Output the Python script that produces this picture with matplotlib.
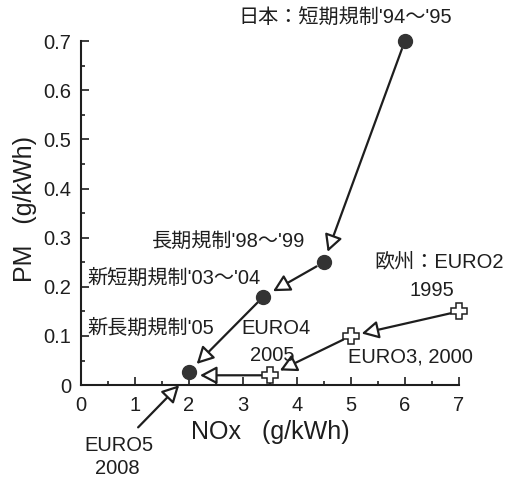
import matplotlib
matplotlib.use('Agg')
import matplotlib.pyplot as plt
from matplotlib.ticker import MultipleLocator

plt.rcParams['font.family'] = ['Liberation Sans', 'Noto Sans CJK JP', 'DejaVu Sans']

# Japan (filled circles): '94-'95, '98-'99, '03-'04, '05
japan_nox = [6.0, 4.5, 3.38, 2.0]
japan_pm = [0.70, 0.25, 0.18, 0.027]

# Europe (open crosses): EURO2 1995, EURO3 2000, EURO4 2005, EURO5 2008
euro_nox = [7.0, 5.0, 3.5, 2.0]
euro_pm = [0.15, 0.10, 0.02, 0.02]

x_ticks = [0, 1, 2, 3, 4, 5, 6, 7]
y_ticks = [0, 0.1, 0.2, 0.3, 0.4, 0.5, 0.6, 0.7]
y_tick_labels = ['0', '0.1', '0.2', '0.3', '0.4', '0.5', '0.6', '0.7']

ink = '#1e1e1e'

fig = plt.figure(figsize=(5.12, 4.79), dpi=100)
ax = fig.add_axes([0.158, 0.196, 0.738, 0.718])

head = '-|>,head_length=0.85,head_width=0.45'
arrow = dict(arrowstyle=head, fc='white', ec=ink, lw=1.6,
             shrinkA=6, shrinkB=8, mutation_scale=12)

# arrows between consecutive regulations
for i in range(len(japan_nox) - 1):
    ax.annotate('', xy=(japan_nox[i + 1], japan_pm[i + 1]),
                xytext=(japan_nox[i], japan_pm[i]), arrowprops=arrow,
                annotation_clip=False)
for i in range(len(euro_nox) - 1):
    ax.annotate('', xy=(euro_nox[i + 1], euro_pm[i + 1]),
                xytext=(euro_nox[i], euro_pm[i]), arrowprops=arrow,
                annotation_clip=False)

ax.plot(euro_nox[:3], euro_pm[:3], linestyle='none', marker='P', ms=11,
        mfc='white', mec=ink, mew=1.1, clip_on=False, zorder=4)
ax.plot(japan_nox, japan_pm, linestyle='none', marker='o', ms=10,
        mfc='#333333', mec='#333333', clip_on=False, zorder=5)

# EURO5 label with arrow to its point
ax.annotate('', xy=(euro_nox[3], euro_pm[3]), xytext=(1.06, -0.086),
            arrowprops=dict(arrowstyle=head, fc='white', ec=ink, lw=1.6,
                            shrinkA=0, shrinkB=10, mutation_scale=12),
            annotation_clip=False)

fs = 14.5
ax.text(4.89, 0.747, "日本：短期規制'94～'95", ha='center', va='center',
        fontsize=fs, color=ink, clip_on=False)
ax.text(1.31, 0.293, "長期規制'98～'99", ha='left', va='center',
        fontsize=fs, color=ink)
ax.text(0.13, 0.218, "新短期規制'03～'04", ha='left', va='center',
        fontsize=fs, color=ink)
ax.text(0.13, 0.116, "新長期規制'05", ha='left', va='center',
        fontsize=fs, color=ink)
ax.text(3.61, 0.116, 'EURO4', ha='center', va='center', fontsize=fs, color=ink)
ax.text(3.55, 0.061, '2005', ha='center', va='center', fontsize=fs, color=ink)
ax.text(6.63, 0.25, '欧州：EURO2', ha='center', va='center', fontsize=fs,
        color=ink, clip_on=False)
ax.text(6.5, 0.193, '1995', ha='center', va='center', fontsize=fs, color=ink)
ax.text(6.11, 0.057, 'EURO3, 2000', ha='center', va='center', fontsize=fs,
        color=ink, clip_on=False)
ax.text(0.70, -0.122, 'EURO5', ha='center', va='center', fontsize=fs,
        color=ink, clip_on=False)
ax.text(0.67, -0.169, '2008', ha='center', va='center', fontsize=fs,
        color=ink, clip_on=False)

ax.set_xlim(0, 7)
ax.set_ylim(0, 0.7)
ax.set_xticks(x_ticks)
ax.set_yticks(y_ticks)
ax.set_yticklabels(y_tick_labels)
ax.xaxis.set_minor_locator(MultipleLocator(0.5))
ax.yaxis.set_minor_locator(MultipleLocator(0.05))
ax.tick_params(which='both', direction='in', color=ink, width=1.2,
               labelsize=14.5, labelcolor=ink)
ax.tick_params(which='major', length=6)
ax.tick_params(which='minor', length=3)
ax.tick_params(axis='x', pad=8)
ax.tick_params(axis='y', pad=7)
for s in ['top', 'right']:
    ax.spines[s].set_visible(False)
for s in ['left', 'bottom']:
    ax.spines[s].set_linewidth(1.5)
    ax.spines[s].set_color(ink)

fig.text(270 / 512, 1 - 432 / 479, 'NOx   (g/kWh)', ha='center', va='center',
         fontsize=18, color=ink)
fig.text(25 / 512, 1 - 209 / 479, 'PM   (g/kWh)', ha='center', va='center',
         rotation=90, fontsize=18, color=ink)

fig.savefig('out.png', dpi=100)
